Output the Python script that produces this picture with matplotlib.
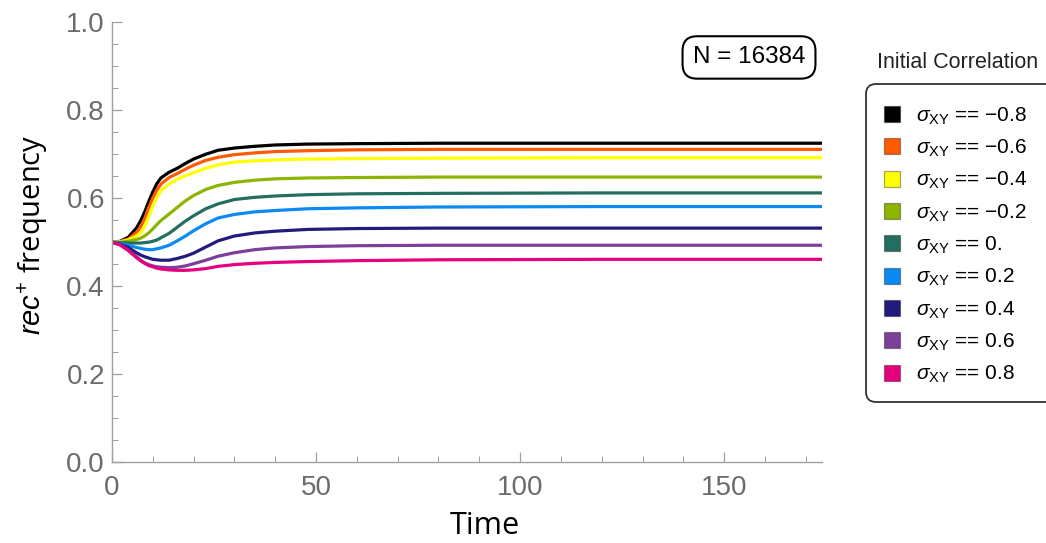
"""
Recombination-modifier frequency over time for different initial correlations.
Saves out.png.
"""
import matplotlib
matplotlib.use('Agg')
import matplotlib.pyplot as plt
from matplotlib.lines import Line2D
from matplotlib.patches import FancyBboxPatch
from matplotlib.transforms import IdentityTransform

# sample times
time = [0, 2, 4, 6, 7, 8, 9, 10, 11, 12, 14, 16, 18, 20, 23, 26, 30, 35, 40, 48, 60, 80, 120, 175]

corr_labels = ['\u22120.8', '\u22120.6', '\u22120.4', '\u22120.2', '0.', '0.2', '0.4', '0.6', '0.8']
colors = ['#000000', '#ff5a00', '#ffff00', '#8cb400', '#236e5e', '#0a8af2', '#211c7c', '#7c3f9a', '#e5007d']

freq_m08 = [0.5, 0.502, 0.511, 0.532, 0.548, 0.568, 0.592, 0.614, 0.633, 0.646, 0.659, 0.668, 0.679, 0.689, 0.700, 0.709, 0.714, 0.718, 0.721, 0.723, 0.724, 0.725, 0.725, 0.725]
freq_m06 = [0.5, 0.501, 0.507, 0.522, 0.534, 0.553, 0.578, 0.600, 0.618, 0.632, 0.647, 0.656, 0.666, 0.675, 0.686, 0.693, 0.699, 0.703, 0.706, 0.708, 0.710, 0.711, 0.711, 0.711]
freq_m04 = [0.5, 0.501, 0.505, 0.514, 0.521, 0.535, 0.558, 0.582, 0.602, 0.617, 0.632, 0.643, 0.651, 0.658, 0.668, 0.676, 0.682, 0.685, 0.687, 0.689, 0.690, 0.691, 0.692, 0.692]
freq_m02 = [0.5, 0.500, 0.502, 0.506, 0.509, 0.514, 0.521, 0.530, 0.540, 0.549, 0.564, 0.579, 0.594, 0.606, 0.620, 0.629, 0.636, 0.641, 0.644, 0.646, 0.647, 0.648, 0.648, 0.648]
freq_00 = [0.5, 0.499, 0.498, 0.498, 0.498, 0.499, 0.500, 0.502, 0.505, 0.510, 0.520, 0.534, 0.548, 0.560, 0.576, 0.587, 0.597, 0.602, 0.605, 0.608, 0.610, 0.611, 0.612, 0.612]
freq_p02 = [0.5, 0.497, 0.493, 0.488, 0.486, 0.484, 0.483, 0.483, 0.485, 0.487, 0.493, 0.503, 0.514, 0.526, 0.542, 0.555, 0.563, 0.569, 0.572, 0.576, 0.578, 0.580, 0.581, 0.581]
freq_p04 = [0.5, 0.495, 0.488, 0.476, 0.471, 0.467, 0.464, 0.461, 0.460, 0.459, 0.459, 0.463, 0.468, 0.475, 0.489, 0.503, 0.514, 0.521, 0.525, 0.529, 0.531, 0.532, 0.532, 0.532]
freq_p06 = [0.5, 0.494, 0.482, 0.467, 0.459, 0.453, 0.449, 0.446, 0.444, 0.443, 0.442, 0.443, 0.446, 0.451, 0.459, 0.468, 0.476, 0.483, 0.487, 0.490, 0.492, 0.493, 0.493, 0.493]
freq_p08 = [0.5, 0.494, 0.481, 0.465, 0.458, 0.452, 0.447, 0.444, 0.441, 0.439, 0.437, 0.436, 0.436, 0.437, 0.440, 0.445, 0.449, 0.452, 0.454, 0.456, 0.458, 0.460, 0.461, 0.461]

series = [freq_m08, freq_m06, freq_m04, freq_m02, freq_00, freq_p02, freq_p04, freq_p06, freq_p08]

plt.rcParams['font.family'] = ['Liberation Sans', 'DejaVu Sans']
plt.rcParams['mathtext.fontset'] = 'custom'
plt.rcParams['mathtext.rm'] = 'Liberation Sans'
plt.rcParams['mathtext.it'] = 'Liberation Sans:italic'

fig = plt.figure(figsize=(10.46, 5.43), dpi=100)
ax = fig.add_axes([0.107, 0.149, 0.679, 0.810])

for vals, col in zip(series, colors):
    ax.plot(time, vals, color=col, lw=2.3, solid_joinstyle='round', solid_capstyle='round')

ax.set_xlim(0, 174)
ax.set_ylim(0, 1.0)
ax.set_xticks([0, 50, 100, 150])
ax.set_xticks(range(10, 175, 10), minor=True)
ax.set_yticks([0.0, 0.2, 0.4, 0.6, 0.8, 1.0])
ax.set_yticks([i * 0.05 for i in range(21)], minor=True)
ax.set_yticklabels(['0.0', '0.2', '0.4', '0.6', '0.8', '1.0'])

for side in ['top', 'right']:
    ax.spines[side].set_visible(False)
for side in ['left', 'bottom']:
    ax.spines[side].set_color('#a0a0a0')
    ax.spines[side].set_linewidth(1.0)

ax.tick_params(which='both', direction='in', colors='#a0a0a0', labelcolor='#6b6b6b', labelsize=20)
ax.tick_params(which='major', length=7, width=0.9)
ax.tick_params(which='minor', length=4, width=0.7)
ax.tick_params(axis='y', pad=5)
ax.tick_params(axis='x', pad=9)

ax.set_xlabel('Time', family=['Open Sans', 'DejaVu Sans'], fontsize=22)
ax.xaxis.set_label_coords(0.525, -0.112)
ax.set_ylabel(r'$\mathit{rec}^{+}$ frequency', family=['Open Sans', 'DejaVu Sans'], fontsize=21)
ax.yaxis.set_label_coords(-0.087, 0.516)

ax.text(0.897, 0.92, 'N = 16384', transform=ax.transAxes, ha='center', va='center', fontsize=17.5,
        bbox=dict(boxstyle='round,pad=0.42,rounding_size=0.6', fc='white', ec='black', lw=1.5))

# legend: title sits above a rounded box that runs off the right edge
box = FancyBboxPatch((866, 141), 220, 318, boxstyle='round,pad=0,rounding_size=10',
                     transform=IdentityTransform(), fc='white', ec='#333333', lw=1.3)
fig.patches.append(box)

handles = [Line2D([], [], ls='none', marker='s', markersize=12, markerfacecolor=c,
                  markeredgecolor=(0, 0, 0, 0.35), markeredgewidth=0.9) for c in colors]
labels = [r'$\sigma_{\mathrm{XY}}$ == ' + s for s in corr_labels]
fig.legend(handles, labels, loc='upper left', bbox_to_anchor=(0.843, 0.806),
           frameon=False, fontsize=15, handlelength=1.0, handletextpad=0.65,
           labelspacing=0.53, borderpad=0, borderaxespad=0)

fig.text(0.8384, 0.8858, 'Initial Correlation', fontsize=15.5, color='#222222', va='center')

plt.savefig('out.png', dpi=100)
plt.close()
